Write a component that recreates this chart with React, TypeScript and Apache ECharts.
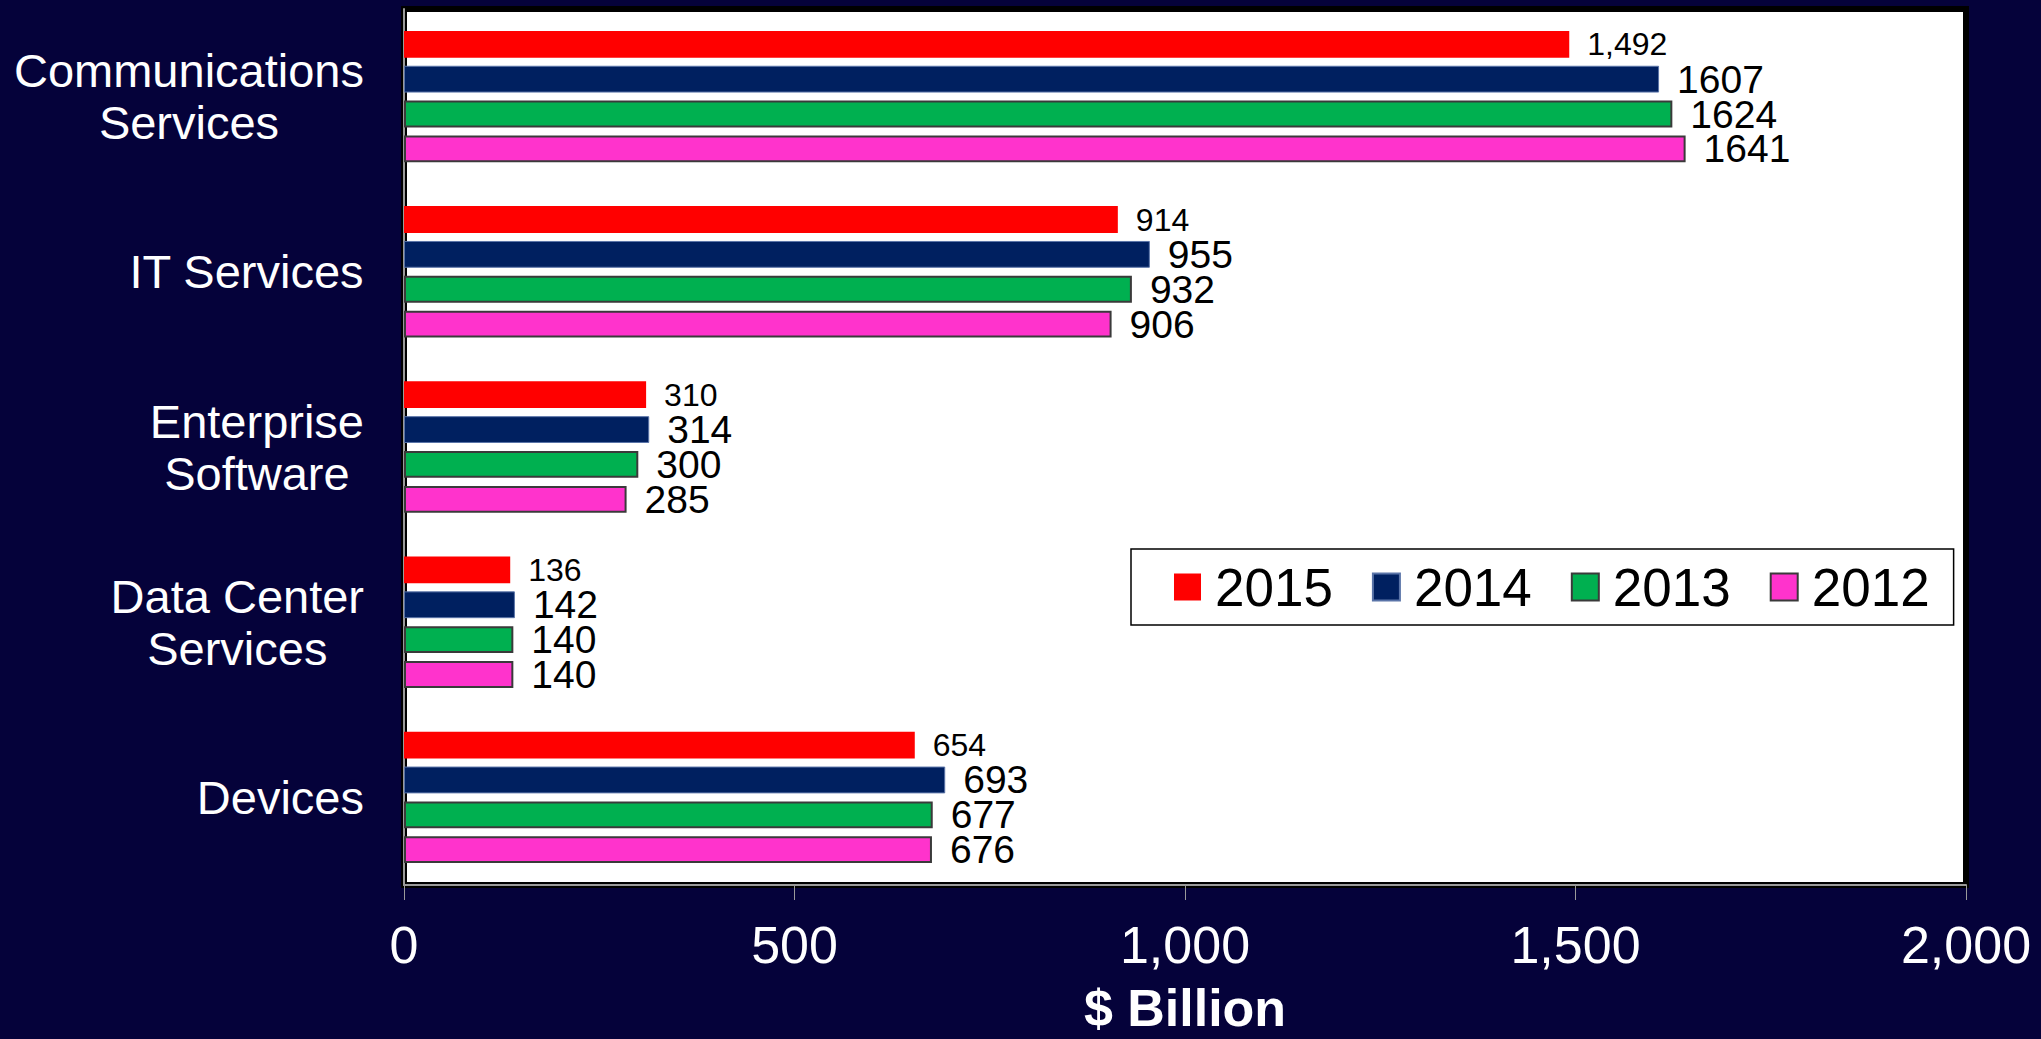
import React, { useEffect, useRef } from "react";
import * as echarts from "echarts";

const categories = [
  "Communications\nServices",
  "IT Services",
  "Enterprise\nSoftware",
  "Data Center\nServices",
  "Devices",
];
const years = ["2015", "2014", "2013", "2012"];
const values2015 = [1492, 914, 310, 136, 654];
const values2014 = [1607, 955, 314, 142, 693];
const values2013 = [1624, 932, 300, 140, 677];
const values2012 = [1641, 906, 285, 140, 676];
const xTicks = { min: 0, max: 2000, interval: 500 };

const FONT = "'Liberation Sans', Arial, sans-serif";

export default function App() {
  const ref = useRef<HTMLDivElement>(null);
  useEffect(() => {
    if (!ref.current) return;
    const chart = echarts.init(ref.current, null, { renderer: "svg" });
    const mk = (
      name: string,
      data: number[],
      color: string,
      borderColor: string,
      borderWidth: number,
      fontSize: number,
      commas: boolean
    ) => ({
      name,
      type: "bar",
      data,
      barCategoryGap: "25%",
      barGap: "30%",
      itemStyle: { color, borderColor, borderWidth },
      label: {
        show: true,
        position: "right",
        distance: 18,
        color: "#000",
        fontSize,
        lineHeight: 30,
        fontFamily: FONT,
        formatter: (p: any) =>
          commas ? Number(p.value).toLocaleString("en-US") : String(p.value),
      },
    });
    chart.setOption({
      animation: false,
      backgroundColor: "#05023A",
      textStyle: { fontFamily: FONT },
      grid: {
        left: 404,
        right: 75,
        top: 9,
        bottom: 151,
        show: true,
        backgroundColor: "#FFFFFF",
        borderColor: "#000000",
        borderWidth: 6,
        containLabel: false,
      },
      legend: {
        data: years,
        left: 1131,
        top: 549,
        orient: "horizontal",
        itemWidth: 27,
        itemHeight: 27,
        itemGap: 39,
        padding: [10, 24, 10, 43],
        backgroundColor: "#FFFFFF",
        borderColor: "#000000",
        borderWidth: 1.5,
        borderRadius: 0,
        textStyle: {
          fontSize: 53,
          lineHeight: 56,
          color: "#000",
          fontFamily: FONT,
          padding: [0, 0, 0, 9],
        },
        icon: "rect",
      },
      xAxis: {
        type: "value",
        min: xTicks.min,
        max: xTicks.max,
        interval: xTicks.interval,
        splitLine: { show: false },
        axisLine: { show: true, lineStyle: { color: "#9A9A9A", width: 2 } },
        axisTick: { show: true, length: 15, lineStyle: { color: "#9A9A9A", width: 1 } },
        axisLabel: {
          color: "#FFFFFF",
          fontSize: 52,
          fontFamily: FONT,
          margin: 34,
          formatter: (v: number) => v.toLocaleString("en-US"),
        },
        name: "$ Billion",
        nameLocation: "middle",
        nameGap: 97,
        nameTextStyle: { color: "#FFFFFF", fontSize: 52, fontWeight: "bold", fontFamily: FONT },
      },
      yAxis: {
        type: "category",
        inverse: true,
        data: categories,
        axisTick: { show: false },
        axisLine: { show: true, lineStyle: { color: "#9A9A9A", width: 2 } },
        offset: 3,
        axisLabel: {
          color: "#FFFFFF",
          fontSize: 47,
          lineHeight: 52,
          fontFamily: FONT,
          margin: 37,
          align: "right",
          formatter: (v: string) =>
            v
              .split("\n")
              .map((l) => `{c|${l}}`)
              .join("\n"),
          rich: {
            c: {
              align: "center",
              color: "#FFFFFF",
              fontSize: 47,
              lineHeight: 52,
              fontFamily: FONT,
            },
          },
        },
      },
      series: [
        mk("2015", values2015, "#FF0000", "#FF0000", 0, 32, true),
        mk("2014", values2014, "#002060", "#5A74A8", 1, 39, false),
        mk("2013", values2013, "#00B050", "#3A3A3A", 2, 39, false),
        mk("2012", values2012, "#FF33CC", "#3A3A3A", 2, 39, false),
      ],
    });
    return () => chart.dispose();
  }, []);
  return (
    <div
      ref={ref}
      style={{ position: "fixed", left: 0, top: 0, width: 2041, height: 1039 }}
    />
  );
}
